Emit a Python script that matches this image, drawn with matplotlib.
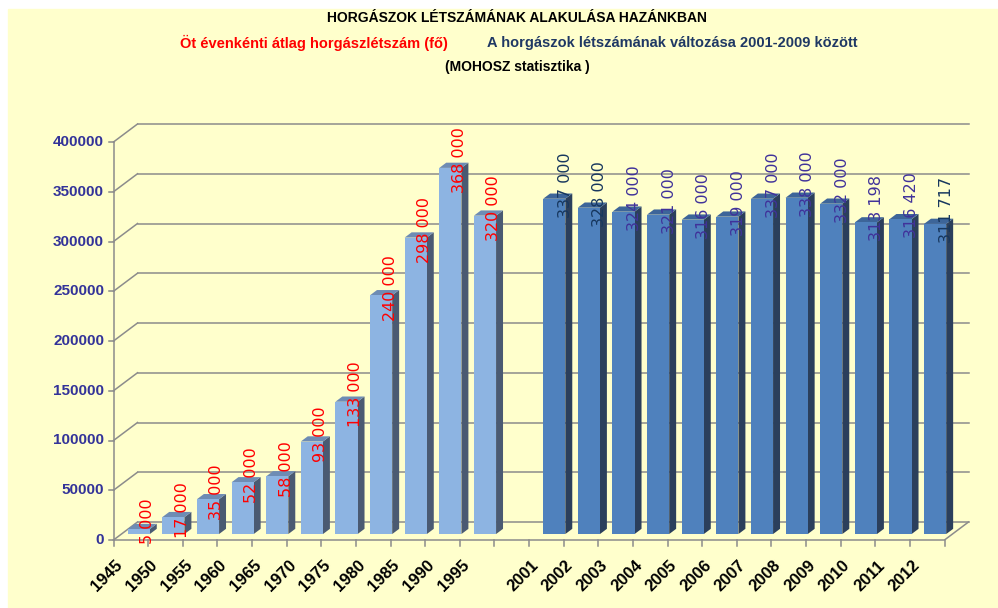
import matplotlib
matplotlib.use("Agg")
import matplotlib.pyplot as plt
from matplotlib.patches import Polygon, Rectangle

# adatok (MOHOSZ)
years_old = ["1945", "1950", "1955", "1960", "1965", "1970", "1975",
             "1980", "1985", "1990", "1995"]
values_old = [5000, 17000, 35000, 52000, 58000, 93000, 133000,
              240000, 298000, 368000, 320000]
years_new = ["2001", "2002", "2003", "2004", "2005", "2006", "2007",
             "2008", "2009", "2010", "2011", "2012"]
values_new = [337000, 328000, 324000, 321000, 316000, 319000, 337000,
              338000, 332000, 313198, 316420, 311717]
y_ticks = [0, 50000, 100000, 150000, 200000, 250000, 300000, 350000, 400000]

title1 = "HORGÁSZOK LÉTSZÁMÁNAK ALAKULÁSA HAZÁNKBAN"
title_red = "Öt évenkénti átlag horgászlétszám (fő)"
title_blue = "A horgászok létszámának változása 2001-2009 között"
title3 = "(MOHOSZ statisztika )"

# geometria (pixel -> adat)
W, H = 998, 608
X0, Y0 = 113.5, 540          # front axis origin, px
PX = 34.625                  # px per category slot
YPX = 400000 / 398           # value units per px
DX = 24 / PX                 # depth offset of back wall (slots)
DY = 18 * YPX                # depth offset of back wall (value units)
F0, FD = 0.33, 0.29          # bar front depth / bar depth
BW = 0.64                    # bar width (slots)
N_SLOTS = 24
GAP = 1

plt.rcParams["font.family"] = ["Liberation Sans", "DejaVu Sans"]
fig = plt.figure(figsize=(W / 100, H / 100), dpi=100, facecolor="white")
fig.patches.append(Rectangle((8 / W, 0), 1 - 8 / W, 1 - 9 / H,
                             transform=fig.transFigure, color="#FFFFCC",
                             zorder=-10))
ax = fig.add_axes([0, 0, 1, 1])
ax.set_xlim(-X0 / PX, (W - X0) / PX)
ax.set_ylim(-(H - Y0) * YPX, Y0 * YPX)
ax.axis("off")

grid_c = "#8C8C8C"
# hátfal rácsvonalai + ferde vonalak
for v in y_ticks:
    ax.plot([DX, N_SLOTS + DX], [v + DY, v + DY], color=grid_c, lw=1.1, zorder=1)
    ax.plot([0, DX], [v, v + DY], color=grid_c, lw=1.1, zorder=1)
    ax.plot([-0.14, 0], [v, v], color=grid_c, lw=1.1, zorder=1)
    ax.text(-0.27, v, str(v), ha="right", va="center", fontsize=11,
            fontweight="bold", color="#333399")
ax.plot([0, 0], [0, y_ticks[-1]], color=grid_c, lw=1.1, zorder=1)
ax.plot([0, N_SLOTS, N_SLOTS + DX], [0, 0, DY], color=grid_c, lw=1.1, zorder=1)
for k in range(N_SLOTS + 1):
    ax.plot([k, k], [0, -6 * YPX], color=grid_c, lw=1.1, zorder=1)


def bar3d(slot, v, front, side, top):
    xl = slot + 0.5 - BW / 2 + F0 * DX
    xr = xl + BW
    y0 = F0 * DY
    ddx, ddy = FD * DX, FD * DY
    ax.add_patch(Polygon([(xr, y0), (xr + ddx, y0 + ddy),
                          (xr + ddx, y0 + ddy + v), (xr, y0 + v)],
                         closed=True, fc=side, ec="none", zorder=3))
    ax.add_patch(Polygon([(xl, y0 + v), (xr, y0 + v),
                          (xr + ddx, y0 + v + ddy), (xl + ddx, y0 + v + ddy)],
                         closed=True, fc=top, ec="none", zorder=3))
    ax.add_patch(Rectangle((xl, y0), BW, v, fc=front, ec="none", zorder=3))
    return xr


def fmt(v):
    return f"{v:,}".replace(",", " ")


navy_idx = {0, 1, 11}
for i, (yr, v) in enumerate(zip(years_old, values_old)):
    xr = bar3d(i, v, "#8DB4E2", "#4A5A72", "#6E8CB4")
    ax.text(xr - 0.06, v + 13500, fmt(v), rotation=90, ha="center",
            va="center", fontsize=11.5, color="#FF0000",
            family="DejaVu Sans", zorder=10)
    ax.text(i + 0.2, -23 * YPX, yr, rotation=45, rotation_mode="anchor",
            ha="right", va="center", fontsize=12, fontweight="bold",
            color="black")

start = len(years_old) + GAP
for j, (yr, v) in enumerate(zip(years_new, values_new)):
    s = start + j
    xr = bar3d(s, v, "#4F81BD", "#2B3F5C", "#3D6599")
    col = "#17375E" if j in navy_idx else "#40329A"
    ax.text(xr, v + 20000, fmt(v), rotation=90, ha="center",
            va="center", fontsize=11.5, color=col,
            family="DejaVu Sans", zorder=10)
    ax.text(s + 0.2, -23 * YPX, yr, rotation=45, rotation_mode="anchor",
            ha="right", va="center", fontsize=12, fontweight="bold",
            color="black")

# címek
fig.text(517 / W, 1 - 18 / H, title1, ha="center", va="center",
         fontsize=10, fontweight="bold", color="black")
fig.text(180 / W, 1 - 43 / H, title_red, ha="left", va="center",
         fontsize=10.5, fontweight="bold", color="#FF0000")
fig.text(487 / W, 1 - 43 / H, title_blue, ha="left", va="center",
         fontsize=10.5, fontweight="bold", color="#1F3864")
fig.text(517 / W, 1 - 67 / H, title3, ha="center", va="center",
         fontsize=10, fontweight="bold", color="black")

fig.savefig("out.png", dpi=100, facecolor=fig.get_facecolor())
